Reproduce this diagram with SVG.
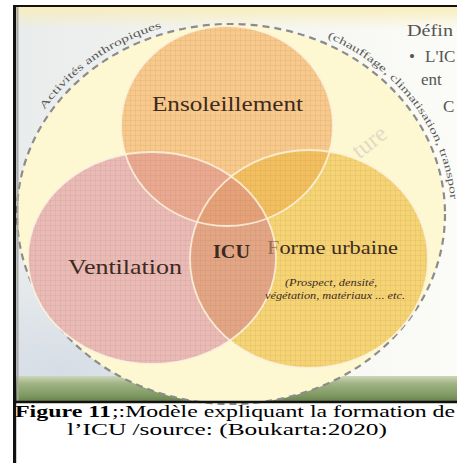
<svg xmlns="http://www.w3.org/2000/svg" width="457" height="463" viewBox="0 0 457 463">
  <style>
    .lbl { font-family: "Liberation Serif", "DejaVu Serif", serif; fill: #3d2a1e; }
    .arc { font-family: "Liberation Serif", "DejaVu Serif", serif; font-size: 10.5px; fill: #5a5a5a; }
    .side { font-family: "Liberation Serif", "DejaVu Serif", serif; font-size: 17px; fill: #555; }
    .cap { font-family: "Liberation Serif", "DejaVu Serif", serif; font-size: 17px; fill: #000; }
    .edge { fill: none; stroke: #fcf3df; stroke-width: 1.8; stroke-opacity: 0.85; }
  </style>
  <defs>
    <linearGradient id="bgH" x1="0" y1="0" x2="1" y2="0">
      <stop offset="0" stop-color="#e9ecec"/>
      <stop offset="0.5" stop-color="#f4f5f1"/>
      <stop offset="1" stop-color="#fbfbf7"/>
    </linearGradient>
    <linearGradient id="topStrip" x1="0" y1="0" x2="0" y2="1">
      <stop offset="0" stop-color="#f8edbd"/>
      <stop offset="1" stop-color="#f8edbd" stop-opacity="0"/>
    </linearGradient>
    <radialGradient id="blueLL" cx="0.1" cy="0.85" r="0.55">
      <stop offset="0" stop-color="#d6dde6"/>
      <stop offset="1" stop-color="#d6dde6" stop-opacity="0"/>
    </radialGradient>
    <linearGradient id="green" x1="0" y1="0" x2="0" y2="1">
      <stop offset="0" stop-color="#cdd6b8"/>
      <stop offset="0.3" stop-color="#9fb383"/>
      <stop offset="0.75" stop-color="#7f9862"/>
      <stop offset="1" stop-color="#66804b"/>
    </linearGradient>
    <pattern id="grid" width="5" height="5" patternUnits="userSpaceOnUse">
      <path d="M0 0.5H5M0.5 0V5" stroke="#a06a50" stroke-width="0.8" stroke-opacity="0.12" fill="none"/>
    </pattern>
    <clipPath id="cO"><ellipse cx="227" cy="126" rx="106" ry="100"/></clipPath>
    <clipPath id="cP"><ellipse cx="152" cy="258" rx="124" ry="106"/></clipPath>
    <clipPath id="cAll">
      <ellipse cx="227" cy="126" rx="106" ry="100"/>
      <ellipse cx="152" cy="258" rx="124" ry="106"/>
      <ellipse cx="309" cy="259" rx="119" ry="109"/>
    </clipPath>
    <path id="arcL" d="M44.4 110.1 A220 196 0 0 1 192.8 21"/>
    <path id="arcR" d="M327.4 37.8 A220 196 0 0 1 450.7 203.7"/>
  </defs>

  <!-- background -->
  <g id="background">
    <rect x="15" y="7" width="442" height="395" fill="url(#bgH)"/>
    <rect x="15" y="200" width="442" height="200" fill="url(#blueLL)"/>
    <rect x="15" y="7" width="442" height="22" fill="url(#topStrip)"/>
    <rect x="15" y="376" width="442" height="26" fill="url(#green)"/>
  </g>

  <!-- outer dashed zone -->
  <g id="zone">
    <ellipse cx="231" cy="214" rx="214" ry="190" fill="#fdf7d2"/>
    <ellipse cx="231" cy="214" rx="214" ry="190" fill="none" stroke="#8c8c8c" stroke-width="2.2" stroke-dasharray="7 5"/>
    <text class="arc"><textPath href="#arcL" textLength="146" lengthAdjust="spacingAndGlyphs">Activités anthropiques</textPath></text>
    <text class="arc"><textPath href="#arcR" textLength="213" lengthAdjust="spacingAndGlyphs">(chauffage, climatisation, transpor</textPath></text>
  </g>

  <!-- circles -->
  <g id="circles">
    <ellipse cx="227" cy="126" rx="106" ry="100" fill="#f7c98b"/>
    <ellipse cx="152" cy="258" rx="124" ry="106" fill="#e9bab6"/>
    <ellipse cx="309" cy="259" rx="119" ry="109" fill="#f5d474"/>
    <ellipse cx="152" cy="258" rx="124" ry="106" fill="#e9a990" clip-path="url(#cO)"/>
    <ellipse cx="309" cy="259" rx="119" ry="109" fill="#f2bf5e" clip-path="url(#cO)"/>
    <ellipse cx="309" cy="259" rx="119" ry="109" fill="#e2a684" clip-path="url(#cP)"/>
    <g clip-path="url(#cO)">
      <ellipse cx="309" cy="259" rx="119" ry="109" fill="#e5a178" clip-path="url(#cP)"/>
    </g>
    <rect x="15" y="20" width="442" height="360" fill="url(#grid)" clip-path="url(#cAll)"/>
    <ellipse class="edge" cx="227" cy="126" rx="106" ry="100" stroke-opacity="0.4"/>
    <ellipse class="edge" cx="152" cy="258" rx="124" ry="106"/>
    <ellipse class="edge" cx="309" cy="259" rx="119" ry="109"/>
  </g>

  <text x="374" y="148" transform="rotate(-38 374 148)" text-anchor="middle" font-family="Liberation Serif, serif" font-size="24" fill="#d6cfbf" fill-opacity="0.7">ture</text>

  <g id="node-ensoleillement">
    <text class="lbl" x="152" y="111" font-size="21" textLength="151" lengthAdjust="spacingAndGlyphs">Ensoleillement</text>
  </g>
  <g id="node-ventilation">
    <text class="lbl" x="68" y="274" font-size="21" textLength="114" lengthAdjust="spacingAndGlyphs">Ventilation</text>
  </g>
  <g id="node-icu">
    <text class="lbl" x="213" y="258" font-size="18" font-weight="bold" fill="#2a1a10" textLength="37" lengthAdjust="spacingAndGlyphs">ICU</text>
  </g>
  <g id="node-forme">
    <text class="lbl" x="267" y="254" font-size="18" textLength="131" lengthAdjust="spacingAndGlyphs"><tspan fill-opacity="0.45">F</tspan>orme urbaine</text>
    <text class="lbl" x="285" y="286" font-size="10.5" font-style="italic" textLength="92" lengthAdjust="spacingAndGlyphs">(Prospect, densité,</text>
    <text class="lbl" x="265" y="299" font-size="10.5" font-style="italic" textLength="140" lengthAdjust="spacingAndGlyphs">végétation, matériaux ... etc.</text>
  </g>

  <g id="side-text">
    <text class="side" x="407" y="36" textLength="46" lengthAdjust="spacingAndGlyphs">Défin</text>
    <text class="side" x="409" y="62" font-size="14">•</text>
    <text class="side" x="425" y="62">L'IC</text>
    <text class="side" x="421" y="85">ent</text>
    <text class="side" x="443" y="112" font-size="14" fill="#cfcbc2">C</text>
  </g>

  <!-- frame -->
  <g id="frame" fill="none">
    <line x1="17.8" y1="7" x2="17.8" y2="401" stroke="#a5a5a5" stroke-width="1.4"/>
    <line x1="13" y1="6" x2="457" y2="6" stroke="#111" stroke-width="2.2"/>
    <line x1="13" y1="402" x2="457" y2="402" stroke="#111" stroke-width="2.6"/>
    <line x1="14.6" y1="5" x2="14.6" y2="463" stroke="#111" stroke-width="3.2"/>
  </g>

  <g id="caption">
    <text class="cap" x="15" y="417" font-weight="bold" textLength="96" lengthAdjust="spacingAndGlyphs">Figure 11</text>
    <text class="cap" x="112" y="417" textLength="343" lengthAdjust="spacingAndGlyphs">;:Modèle expliquant la formation de</text>
    <text class="cap" x="67" y="435" textLength="320" lengthAdjust="spacingAndGlyphs">l’ICU /source: (Boukarta:2020)</text>
  </g>
</svg>
